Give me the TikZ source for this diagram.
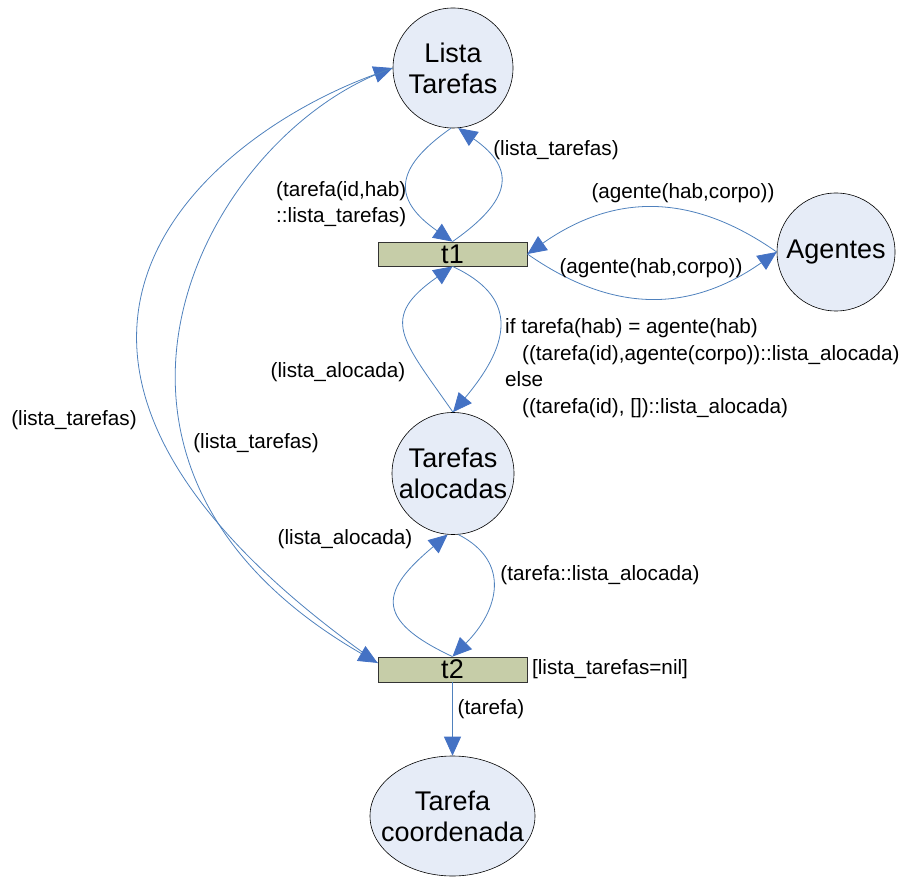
\documentclass[tikz,border=0pt]{standalone}
\usepackage{fontspec}
\setmainfont{Liberation Sans}
\usetikzlibrary{arrows.meta,shapes.geometric}
\definecolor{placefill}{RGB}{230,236,247}
\definecolor{transfill}{RGB}{198,205,168}
\definecolor{arcblue}{RGB}{79,129,189}
\definecolor{tipblue}{RGB}{68,114,196}

\begin{document}
\begin{tikzpicture}[x=1pt,y=1pt,
  placetext/.style={font=\fontsize{27}{31}\selectfont, align=center, inner sep=0pt},
  place/.style={circle, draw=black, line width=0.6pt, fill=placefill,
    inner sep=0pt, minimum size=#1},
  transition/.style={rectangle, draw=black!80, line width=0.8pt, fill=transfill,
    inner sep=0pt, minimum width=149pt, minimum height=#1,
    font=\fontsize{27}{31}\selectfont},
  lbl/.style={font=\fontsize{20.7}{26.5}\selectfont, inner sep=0pt},
  arc/.style={draw=arcblue, line width=0.8pt,
    -{Triangle[length=19pt,width=17pt,color=tipblue]}}
]
\useasboundingbox (0,0) rectangle (904,876);

% places
\node[place=120pt, label={[placetext]center:{Lista\\Tarefas}}] (LT) at (453,808) {};
\node[place=118pt, label={[placetext]center:{Agentes}}] (AG) at (836,624) {};
\node[place=122pt, label={[placetext]center:{Tarefas\\alocadas}}] (TA) at (453,402.5) {};
\node[ellipse, draw=black, line width=0.6pt, fill=placefill, inner sep=0pt,
  minimum width=165pt, minimum height=120pt,
  label={[placetext]center:{Tarefa\\coordenada}}] (TC) at (452.5,60) {};

% transitions
\node[transition=24pt] (t1) at (452.5,622) {t1};
\node[transition=25pt] (t2) at (452.5,206.5) {t2};

% Lista Tarefas <-> t1
\draw[arc] (LT.268) to[out=215, in=145, distance=72pt] (t1.north);
\draw[arc] (t1.north) to[out=35, in=-35, distance=72pt] (LT.275);

% Agentes <-> t1
\draw[arc] (AG.west) to[out=145, in=35, distance=105pt] (t1.east);
\draw[arc] (t1.east) to[out=-35, in=215, distance=105pt] (AG.west);

% Tarefas alocadas <-> t1
\draw[arc] (TA.north) to[out=125, in=215, distance=90pt] (t1.south);
\draw[arc] (t1.south) to[out=-25, in=50, out distance=70pt, in distance=95pt] (TA.north);

% Tarefas alocadas <-> t2
\draw[arc] (t2.north) to[out=155, in=220, out distance=90pt, in distance=85pt] (TA.265);
\draw[arc] (TA.275) to[out=-27, in=45, out distance=60pt, in distance=65pt] (t2.north);

% Lista Tarefas <-> t2
\draw[arc] (t2.175) to[out=145, in=200, out distance=540pt, in distance=200pt] (LT.west);
\draw[arc] (LT.west) to[out=199, in=150, out distance=200pt, in distance=400pt] (t2.175);

% t2 -> Tarefa coordenada
\draw[arc] (t2.south) -- (TC.north);

% inscriptions
\node[lbl] (l1) at (556,726) {(lista\_tarefas)};
\node[lbl, anchor=west, align=left] (l2) at (276,672) {(tarefa(id,hab)\\::lista\_tarefas)};
\node[lbl] (l3) at (683,683) {(agente(hab,corpo))};
\node[lbl] (l4) at (651,608) {(agente(hab,corpo))};
\node[lbl] (l5) at (338,504) {(lista\_alocada)};
\node[lbl, anchor=west, align=left] (l6) at (505,508)
  {if tarefa(hab) = agente(hab)\\
   \hspace*{17pt}((tarefa(id),agente(corpo))::lista\_alocada)\\
   else\\
   \hspace*{17pt}((tarefa(id), [])::lista\_alocada)};
\node[lbl] (l7) at (74,456) {(lista\_tarefas)};
\node[lbl] (l8) at (256,433) {(lista\_tarefas)};
\node[lbl] (l9) at (345,337) {(lista\_alocada)};
\node[lbl] (l10) at (600,301) {(tarefa::lista\_alocada)};
\node[lbl] (l11) at (610,207) {[lista\_tarefas=nil]};
\node[lbl] (l12) at (491,167) {(tarefa)};
\end{tikzpicture}
\end{document}
